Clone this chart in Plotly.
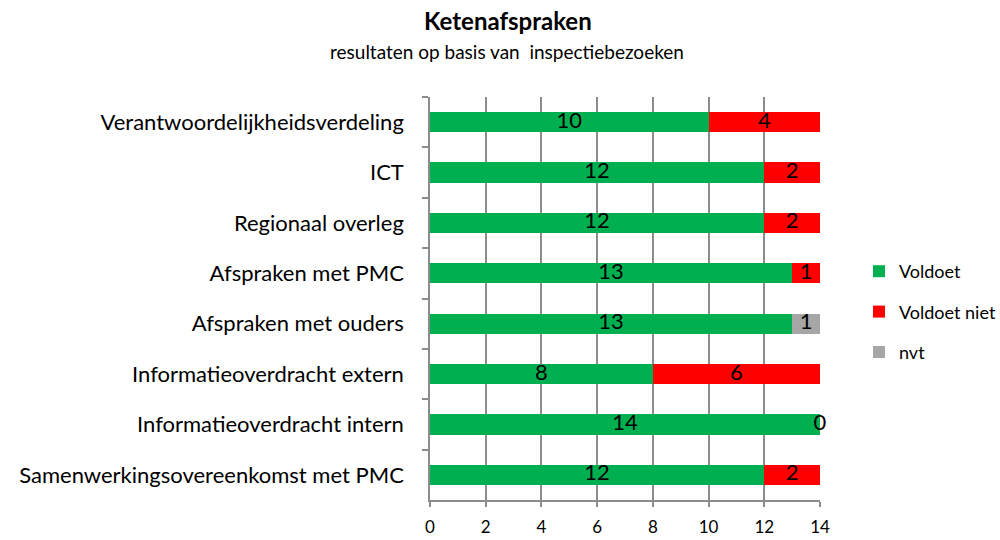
import plotly.graph_objects as go

categories = [
    "Verantwoordelijkheidsverdeling",
    "ICT",
    "Regionaal overleg",
    "Afspraken met PMC",
    "Afspraken met ouders",
    "Informatieoverdracht extern",
    "Informatieoverdracht intern",
    "Samenwerkingsovereenkomst met PMC",
]
voldoet = [10, 12, 12, 13, 13, 8, 14, 12]
voldoet_niet = [4, 2, 2, 1, None, 6, 0, 2]
nvt = [None, None, None, None, 1, None, None, None]
x_ticks = [0, 2, 4, 6, 8, 10, 12, 14]

FONT = "Lato, 'Open Sans', sans-serif"
GREEN = "#00B050"
RED = "#FF0000"
GREY = "#A6A6A6"

L, R, T, B = 430, 180, 97, 40
PW, PH = 1000 - L - R, 540 - T - B


def px_x(px):
    return (px - L) / PW


def px_y(py):
    return 1 - (py - T) / PH


fig = go.Figure()
series = [("Voldoet", voldoet, GREEN), ("Voldoet niet", voldoet_niet, RED), ("nvt", nvt, GREY)]
for name, vals, col in series:
    fig.add_trace(go.Bar(
        y=categories, x=[v if v is not None else 0 for v in vals], name=name,
        orientation="h", marker=dict(color=col, line=dict(width=0)),
        legendgroup=name, hoverinfo="skip",
    ))

# data labels centred on each segment
lx, ly, lt = [], [], []
base = [0] * len(categories)
for name, vals, col in series:
    for i, v in enumerate(vals):
        if v is None:
            continue
        lx.append(base[i] + v / 2)
        ly.append(categories[i])
        lt.append(str(v))
        base[i] += v
fig.add_trace(go.Scatter(
    x=lx, y=ly, text=lt, mode="text", showlegend=False, hoverinfo="skip",
    textfont=dict(family=FONT, size=22, color="black"), textposition="middle center",
    cliponaxis=False,
))

fig.update_layout(
    width=1000, height=540,
    barmode="stack", bargap=0.6,
    plot_bgcolor="white", paper_bgcolor="white",
    margin=dict(l=L, r=R, t=T, b=B, autoexpand=False),
    font=dict(family=FONT, color="black"),
    legend=dict(
        x=px_x(859), xanchor="left", y=px_y(312), yanchor="middle",
        font=dict(size=18, family=FONT), tracegroupgap=14,
        itemwidth=30, bgcolor="rgba(0,0,0,0)",
    ),
    annotations=[
        dict(text="<b>Ketenafspraken</b>", xref="paper", yref="paper",
             x=px_x(508), y=px_y(20), xanchor="center", yanchor="middle", showarrow=False,
             font=dict(size=24, family=FONT, color="black")),
        dict(text="resultaten op basis van  inspectiebezoeken", xref="paper", yref="paper",
             x=px_x(507), y=px_y(52), xanchor="center", yanchor="middle", showarrow=False,
             font=dict(size=19, family=FONT, color="black")),
    ],
)

fig.update_xaxes(
    range=[0, 14], tickvals=x_ticks, ticktext=[str(t) for t in x_ticks],
    showgrid=True, gridcolor="#8C8C8C", gridwidth=1.5,
    showline=True, linecolor="#8C8C8C", linewidth=1.5,
    ticks="outside", ticklen=5, tickcolor="#8C8C8C", tickwidth=1.5,
    ticklabelstandoff=6,
    tickfont=dict(size=17, family=FONT), zeroline=False,
)
fig.update_yaxes(
    autorange="reversed", showgrid=False,
    showline=True, linecolor="#8C8C8C", linewidth=1.5,
    ticks="outside", ticklen=6, tickcolor="#8C8C8C", tickwidth=1.5,
    tickson="boundaries", ticklabelstandoff=20,
    tickfont=dict(size=22, family=FONT),
)

fig.write_html(
    "out.html",
    config={"displayModeBar": False},
    post_script="document.body.style.margin='0';document.body.style.padding='0';",
)
